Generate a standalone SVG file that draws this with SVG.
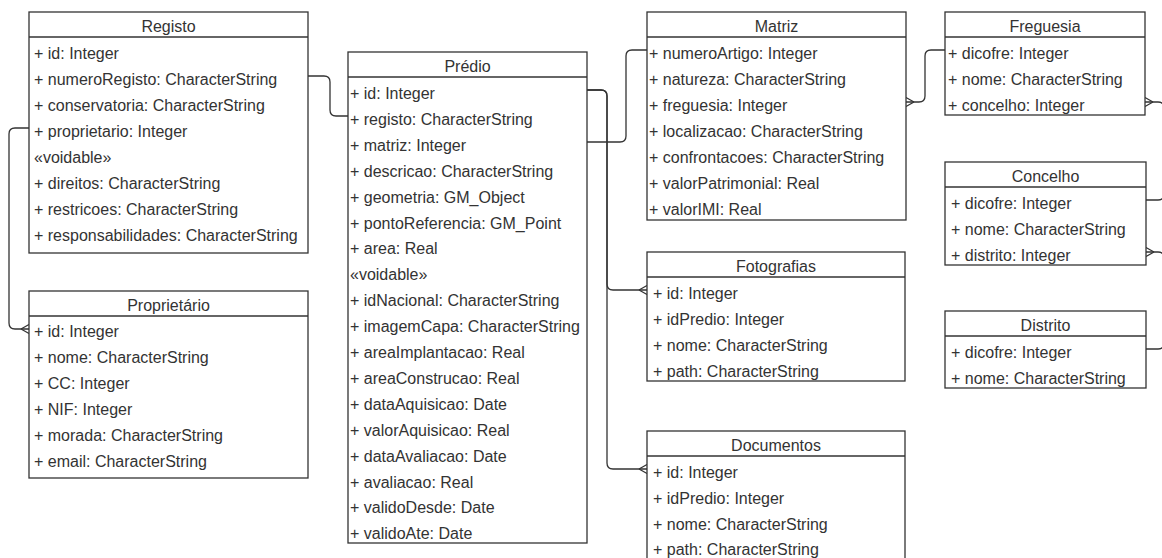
<svg xmlns="http://www.w3.org/2000/svg" width="1162" height="558" viewBox="0 0 1162 558">
  <style>
    .box { fill: #ffffff; stroke: #333333; stroke-width: 1.3; }
    .sep { stroke: #333333; stroke-width: 1.3; fill: none; }
    .title { font-family: "Liberation Sans", Arial, sans-serif; font-size: 16px; fill: #333333; text-anchor: middle; }
    .attr { font-family: "Liberation Sans", Arial, sans-serif; font-size: 16px; fill: #333333; }
    .link { fill: none; stroke: #333333; stroke-width: 1.3; }
  </style>
  <defs>
    <!-- crow's foot ("many") end for relationships -->
    <marker id="many" viewBox="-10 -6 12 12" refX="0" refY="0" markerWidth="12" markerHeight="12" markerUnits="userSpaceOnUse" orient="auto-start-reverse">
      <path d="M-8,0 L0,-4.5 M-8,0 L0,4.5" fill="none" stroke="#333333" stroke-width="1.3"/>
    </marker>
  </defs>
  <rect x="0" y="0" width="1162" height="558" fill="#ffffff"/>

  <!-- relationships -->
  <g id="connectors">
    <!-- Registo.numeroRegisto -> Predio.registo -->
    <path class="link" d="M308,76 H324 Q330,76 330,82 V110 Q330,116 336,116 H348"/>
    <!-- Registo.proprietario -> Proprietario.id -->
    <path class="link" d="M29,128 H15 Q9,128 9,134 V323 Q9,329 15,329 H29" marker-end="url(#many)"/>
    <!-- Predio.matriz -> Matriz.numeroArtigo -->
    <path class="link" d="M587,142 H620 Q626,142 626,136 V56 Q626,50 632,50 H647"/>
    <!-- Predio.id -> Fotografias.id -->
    <path class="link" d="M587,90 H601 Q607,90 607,96 V284 Q607,290 613,290 H647" marker-end="url(#many)"/>
    <!-- Predio.id -> Documentos.id -->
    <path class="link" d="M587,90 H601 Q607,90 607,96 V463 Q607,469 613,469 H647" marker-end="url(#many)"/>
    <!-- Matriz.freguesia -> Freguesia.dicofre -->
    <path class="link" d="M906,102 H919 Q925,102 925,96 V56 Q925,50 931,50 H945" marker-start="url(#many)"/>
    <!-- Freguesia.concelho -> Concelho.dicofre -->
    <path class="link" d="M1145,102 H1158 Q1164,102 1164,108 V194 Q1164,200 1158,200 H1146" marker-start="url(#many)"/>
    <!-- Concelho.distrito -> Distrito.dicofre -->
    <path class="link" d="M1146,252 H1158 Q1164,252 1164,258 V343 Q1164,349 1158,349 H1146" marker-start="url(#many)"/>
  </g>

  <g id="registo">
    <rect class="box" x="29" y="12" width="279" height="241"/>
    <line class="sep" x1="29" y1="37" x2="308" y2="37"/>
    <text class="title" x="168.5" y="32">Registo</text>
    <text class="attr" x="34" y="59">+ id: Integer</text>
    <text class="attr" x="34" y="85">+ numeroRegisto: CharacterString</text>
    <text class="attr" x="34" y="111">+ conservatoria: CharacterString</text>
    <text class="attr" x="34" y="137">+ proprietario: Integer</text>
    <text class="attr" x="34" y="163">«voidable»</text>
    <text class="attr" x="34" y="189">+ direitos: CharacterString</text>
    <text class="attr" x="34" y="215">+ restricoes: CharacterString</text>
    <text class="attr" x="34" y="241">+ responsabilidades: CharacterString</text>
  </g>

  <g id="proprietario">
    <rect class="box" x="29" y="291" width="279" height="187"/>
    <line class="sep" x1="29" y1="316" x2="308" y2="316"/>
    <text class="title" x="168.5" y="311">Proprietário</text>
    <text class="attr" x="34" y="337">+ id: Integer</text>
    <text class="attr" x="34" y="363">+ nome: CharacterString</text>
    <text class="attr" x="34" y="389">+ CC: Integer</text>
    <text class="attr" x="34" y="415">+ NIF: Integer</text>
    <text class="attr" x="34" y="441">+ morada: CharacterString</text>
    <text class="attr" x="34" y="467">+ email: CharacterString</text>
  </g>

  <g id="predio">
    <rect class="box" x="348" y="52" width="239" height="491"/>
    <line class="sep" x1="348" y1="77" x2="587" y2="77"/>
    <text class="title" x="467.5" y="72">Prédio</text>
    <text class="attr" x="350" y="99">+ id: Integer</text>
    <text class="attr" x="350" y="124.9">+ registo: CharacterString</text>
    <text class="attr" x="350" y="150.8">+ matriz: Integer</text>
    <text class="attr" x="350" y="176.7">+ descricao: CharacterString</text>
    <text class="attr" x="350" y="202.6">+ geometria: GM_Object</text>
    <text class="attr" x="350" y="228.5">+ pontoReferencia: GM_Point</text>
    <text class="attr" x="350" y="254.4">+ area: Real</text>
    <text class="attr" x="350" y="280.3">«voidable»</text>
    <text class="attr" x="350" y="306.2">+ idNacional: CharacterString</text>
    <text class="attr" x="350" y="332.1">+ imagemCapa: CharacterString</text>
    <text class="attr" x="350" y="358">+ areaImplantacao: Real</text>
    <text class="attr" x="350" y="383.9">+ areaConstrucao: Real</text>
    <text class="attr" x="350" y="409.8">+ dataAquisicao: Date</text>
    <text class="attr" x="350" y="435.7">+ valorAquisicao: Real</text>
    <text class="attr" x="350" y="461.6">+ dataAvaliacao: Date</text>
    <text class="attr" x="350" y="487.5">+ avaliacao: Real</text>
    <text class="attr" x="350" y="513.4">+ validoDesde: Date</text>
    <text class="attr" x="350" y="539.3">+ validoAte: Date</text>
  </g>

  <g id="matriz">
    <rect class="box" x="647" y="12" width="259" height="208"/>
    <line class="sep" x1="647" y1="37" x2="906" y2="37"/>
    <text class="title" x="776.5" y="32">Matriz</text>
    <text class="attr" x="649" y="59">+ numeroArtigo: Integer</text>
    <text class="attr" x="649" y="85">+ natureza: CharacterString</text>
    <text class="attr" x="649" y="111">+ freguesia: Integer</text>
    <text class="attr" x="649" y="137">+ localizacao: CharacterString</text>
    <text class="attr" x="649" y="163">+ confrontacoes: CharacterString</text>
    <text class="attr" x="649" y="189">+ valorPatrimonial: Real</text>
    <text class="attr" x="649" y="215">+ valorIMI: Real</text>
  </g>

  <g id="fotografias">
    <rect class="box" x="647" y="252" width="258" height="129"/>
    <line class="sep" x1="647" y1="277" x2="905" y2="277"/>
    <text class="title" x="776" y="272">Fotografias</text>
    <text class="attr" x="653" y="299">+ id: Integer</text>
    <text class="attr" x="653" y="325">+ idPredio: Integer</text>
    <text class="attr" x="653" y="351">+ nome: CharacterString</text>
    <text class="attr" x="653" y="377">+ path: CharacterString</text>
  </g>

  <g id="documentos">
    <rect class="box" x="647" y="431" width="258" height="130"/>
    <line class="sep" x1="647" y1="456" x2="905" y2="456"/>
    <text class="title" x="776" y="451">Documentos</text>
    <text class="attr" x="653" y="478">+ id: Integer</text>
    <text class="attr" x="653" y="504">+ idPredio: Integer</text>
    <text class="attr" x="653" y="530">+ nome: CharacterString</text>
    <text class="attr" x="653" y="555">+ path: CharacterString</text>
  </g>

  <g id="freguesia">
    <rect class="box" x="945" y="12" width="200" height="103"/>
    <line class="sep" x1="945" y1="37" x2="1145" y2="37"/>
    <text class="title" x="1045" y="32">Freguesia</text>
    <text class="attr" x="948" y="59">+ dicofre: Integer</text>
    <text class="attr" x="948" y="85">+ nome: CharacterString</text>
    <text class="attr" x="948" y="111">+ concelho: Integer</text>
  </g>

  <g id="concelho">
    <rect class="box" x="945" y="162" width="201" height="103"/>
    <line class="sep" x1="945" y1="187" x2="1146" y2="187"/>
    <text class="title" x="1045.5" y="182">Concelho</text>
    <text class="attr" x="951" y="209">+ dicofre: Integer</text>
    <text class="attr" x="951" y="235">+ nome: CharacterString</text>
    <text class="attr" x="951" y="261">+ distrito: Integer</text>
  </g>

  <g id="distrito">
    <rect class="box" x="945" y="311" width="201" height="77"/>
    <line class="sep" x1="945" y1="336" x2="1146" y2="336"/>
    <text class="title" x="1045.5" y="331">Distrito</text>
    <text class="attr" x="951" y="358">+ dicofre: Integer</text>
    <text class="attr" x="951" y="384">+ nome: CharacterString</text>
  </g>
</svg>
